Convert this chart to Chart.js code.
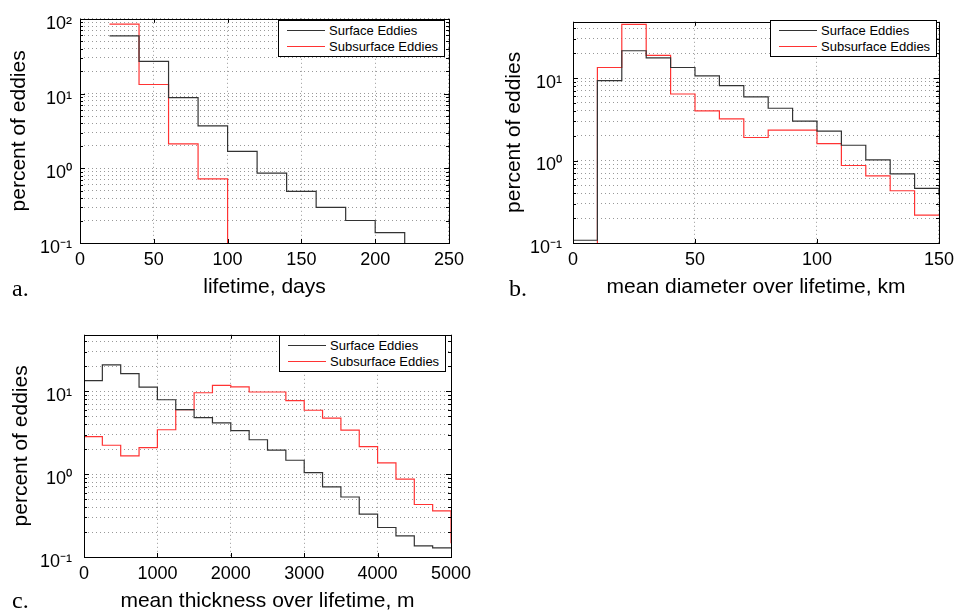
<!DOCTYPE html>
<html>
<head>
<meta charset="utf-8">
<script src="https://cdn.jsdelivr.net/npm/chart.js@4.4.0/dist/chart.umd.min.js"></script>
<style>
  body { margin: 0; background: #fff; width: 962px; height: 616px; position: relative; overflow: hidden;
         font-family: 'Liberation Sans', Arial, sans-serif; }
  .panel { position: absolute; }
  .tag { position: absolute; font-family: 'Liberation Serif', serif; font-size: 24px; color: #000; line-height: 1; }
  .legend { position: absolute; width: 167px; height: 37px; border: 1px solid #000; background: #fff;
            box-sizing: border-box; font-size: 13px; color: #000; }
  .legend .row { position: absolute; left: 0; height: 16px; width: 100%; }
  .legend .swatch { position: absolute; left: 8px; top: 7px; width: 38px; height: 0; border-top: 1.3px solid #000; }
  .legend .txt { position: absolute; left: 50px; top: 0; line-height: 16px; white-space: nowrap; }
</style>
</head>
<body>
<div class="panel" style="left:0;top:0"><canvas id="chartA" width="470" height="305"></canvas></div>
<div class="panel" style="left:490px;top:0"><canvas id="chartB" width="470" height="305"></canvas></div>
<div class="panel" style="left:0;top:312px"><canvas id="chartC" width="500" height="304"></canvas></div>
<div class="tag" style="left:12px;top:276px">a.</div>
<div class="tag" style="left:509px;top:276px">b.</div>
<div class="tag" style="left:12px;top:588px">c.</div>
<script>
// bin edges (left edges + end edge) and percent of eddies per bin (last entry = level after the last edge)
const lifeEdges = [20, 40, 60, 80, 100, 120, 140, 160, 180, 200, 220];
const lifeSurface = [59, 27, 8.8, 3.7, 1.68, 0.86, 0.49, 0.30, 0.20, 0.138, 0.05];
const lifeSubEdges = [20, 40, 60, 80, 100];
const lifeSubsurface = [85, 13.2, 2.12, 0.72, 0.05];

const diamEdges = [0, 10, 20, 30, 40, 50, 60, 70, 80, 90, 100, 110, 120, 130, 140, 150];
const diamSurface = [0.108, 9.3, 21.4, 17.5, 13.4, 10.6, 8.1, 5.9, 4.3, 3.0, 2.27, 1.53, 1.02, 0.69, 0.46, 0.38];
const diamSubsurface = [0.05, 13.4, 44.7, 18.8, 6.4, 4.0, 3.2, 1.9, 2.33, 2.33, 1.6, 0.87, 0.65, 0.43, 0.218, 0.218];

const thickEdges = [0, 250, 500, 750, 1000, 1250, 1500, 1750, 2000, 2250, 2500, 2750, 3000, 3250, 3500, 3750, 4000, 4250, 4500, 4750, 5000];
const thickSurface = [13.4, 20.8, 16.3, 11.2, 7.9, 6.0, 4.8, 4.15, 3.34, 2.6, 1.95, 1.47, 1.04, 0.70, 0.53, 0.33, 0.227, 0.18, 0.136, 0.129, 0.129];
const thickSubsurface = [2.84, 2.23, 1.66, 2.09, 3.43, 6.0, 9.6, 11.8, 11.3, 9.8, 9.8, 7.7, 5.9, 4.75, 3.4, 2.15, 1.37, 0.87, 0.43, 0.36, 0.147];

// tick labels
const lifeTicks = [0, 50, 100, 150, 200, 250];
const diamTicks = [0, 50, 100, 150];
const thickTicks = [0, 1000, 2000, 3000, 4000, 5000];
const decades = [0.1, 1, 10, 100];
const decadeLabels = ['10\u207B\u00B9', '10\u2070', '10\u00B9', '10\u00B2'];
const seriesNames = ['Surface Eddies', 'Subsurface Eddies'];

const BLACK = '#333';
const RED = '#ff3333';
const GRID = '#999';

// all 1..9 x decade positions for the dotted log grid
function logGrid(max) {
  const out = [];
  decades.forEach(d => {
    for (let m = 1; m <= 9; m++) {
      const v = +(m * d).toPrecision(3);
      if (v <= max) out.push(v);
    }
  });
  return out;
}

function stairs(edges, vals) {
  return edges.map((x, i) => ({ x: x, y: vals[i] }));
}

const framePlugin = {
  id: 'frame',
  afterDraw(chart) {
    const { ctx, chartArea: a, scales: { x, y } } = chart;
    ctx.save();
    ctx.strokeStyle = '#000';
    ctx.lineWidth = 1;
    ctx.beginPath();
    x.ticks.forEach(t => {
      const px = Math.round(x.getPixelForValue(t.value)) + 0.5;
      ctx.moveTo(px, a.bottom); ctx.lineTo(px, a.bottom - 4);
      ctx.moveTo(px, a.top); ctx.lineTo(px, a.top + 4);
    });
    y.ticks.forEach(t => {
      const py = Math.round(y.getPixelForValue(t.value)) + 0.5;
      const len = t.label ? 5 : 3;
      ctx.moveTo(a.left, py); ctx.lineTo(a.left + len, py);
      ctx.moveTo(a.right, py); ctx.lineTo(a.right - len, py);
    });
    ctx.stroke();
    ctx.strokeRect(Math.round(a.left) + 0.5, Math.round(a.top) + 0.5, Math.round(a.width), Math.round(a.height));
    ctx.restore();
  }
};

function makePanel(id, p) {
  const yGrid = logGrid(p.ymax);
  const chart = new Chart(document.getElementById(id), {
    type: 'line',
    data: {
      datasets: [
        { label: seriesNames[0], data: stairs(p.edges1, p.vals1), borderColor: BLACK, borderWidth: 1.2, stepped: 'before', pointRadius: 0 },
        { label: seriesNames[1], data: stairs(p.edges2, p.vals2), borderColor: RED, borderWidth: 1.2, stepped: 'before', pointRadius: 0 }
      ]
    },
    options: {
      responsive: false,
      animation: false,
      devicePixelRatio: 1,
      layout: { padding: { left: 0, top: p.top, right: p.right, bottom: 0 } },
      plugins: { legend: { display: false }, tooltip: { enabled: false } },
      scales: {
        x: {
          type: 'linear', min: p.xTicks[0], max: p.xTicks[p.xTicks.length - 1],
          afterBuildTicks: s => { s.ticks = p.xTicks.map(v => ({ value: v })); },
          afterFit: s => { s.height = p.xHeight; },
          ticks: { autoSkip: false, maxRotation: 0, padding: 6, color: '#000',
                   font: { family: 'Liberation Sans', size: 18 }, callback: v => String(v) },
          grid: { color: GRID, lineWidth: 1, drawTicks: false },
          border: { display: false, dash: [1, 3] },
          title: { display: true, text: p.xTitle, color: '#000', font: { family: 'Liberation Sans', size: 21 },
                   padding: { top: 0, bottom: p.xTitlePad } }
        },
        y: {
          type: 'logarithmic', min: 0.1, max: p.ymax,
          afterBuildTicks: s => { s.ticks = yGrid.map(v => ({ value: v })); },
          afterFit: s => { s.width = p.yWidth; },
          ticks: { autoSkip: false, padding: p.yPad, labelOffset: 5, color: '#000',
                   font: { family: 'Liberation Sans', size: 18 },
                   callback: v => { const k = decades.indexOf(v); return k >= 0 ? decadeLabels[k] : ''; } },
          grid: { color: GRID, lineWidth: 1, drawTicks: false },
          border: { display: false, dash: [1, 3] },
          title: { display: true, text: 'percent of eddies', color: '#000', font: { family: 'Liberation Sans', size: 21 },
                   padding: { top: p.yTitlePad, bottom: 0 } }
        }
      }
    },
    plugins: [framePlugin]
  });

  // legend box inside the axes, built from the datasets
  const lg = document.createElement('div');
  lg.className = 'legend';
  lg.style.left = p.legend[0] + 'px';
  lg.style.top = p.legend[1] + 'px';
  chart.data.datasets.forEach((ds, i) => {
    const row = document.createElement('div');
    row.className = 'row';
    row.style.top = (2 + i * 16) + 'px';
    row.innerHTML = '<div class="swatch" style="border-top-color:' + ds.borderColor + '"></div><div class="txt">' + ds.label + '</div>';
    lg.appendChild(row);
  });
  document.getElementById(id).parentNode.appendChild(lg);
  return chart;
}

makePanel('chartA', {
  edges1: lifeEdges, vals1: lifeSurface, edges2: lifeSubEdges, vals2: lifeSubsurface,
  xTicks: lifeTicks, xTitle: 'lifetime, days', ymax: 100,
  top: 14, right: 19, yWidth: 80, xHeight: 62, yPad: 8, yTitlePad: 7, xTitlePad: 5,
  legend: [278, 20]
});
makePanel('chartB', {
  edges1: diamEdges, vals1: diamSurface, edges2: diamEdges, vals2: diamSubsurface,
  xTicks: diamTicks, xTitle: 'mean diameter over lifetime, km', ymax: 48,
  top: 14, right: 16, yWidth: 83, xHeight: 62, yPad: 11, yTitlePad: 12, xTitlePad: 5,
  legend: [280, 20]
});
makePanel('chartC', {
  edges1: thickEdges, vals1: thickSurface, edges2: thickEdges, vals2: thickSubsurface,
  xTicks: thickTicks, xTitle: 'mean thickness over lifetime, m', ymax: 48,
  top: 17, right: 49, yWidth: 84, xHeight: 59, yPad: 12, yTitlePad: 9, xTitlePad: 2,
  legend: [279, 23]
});
</script>
</body>
</html>
